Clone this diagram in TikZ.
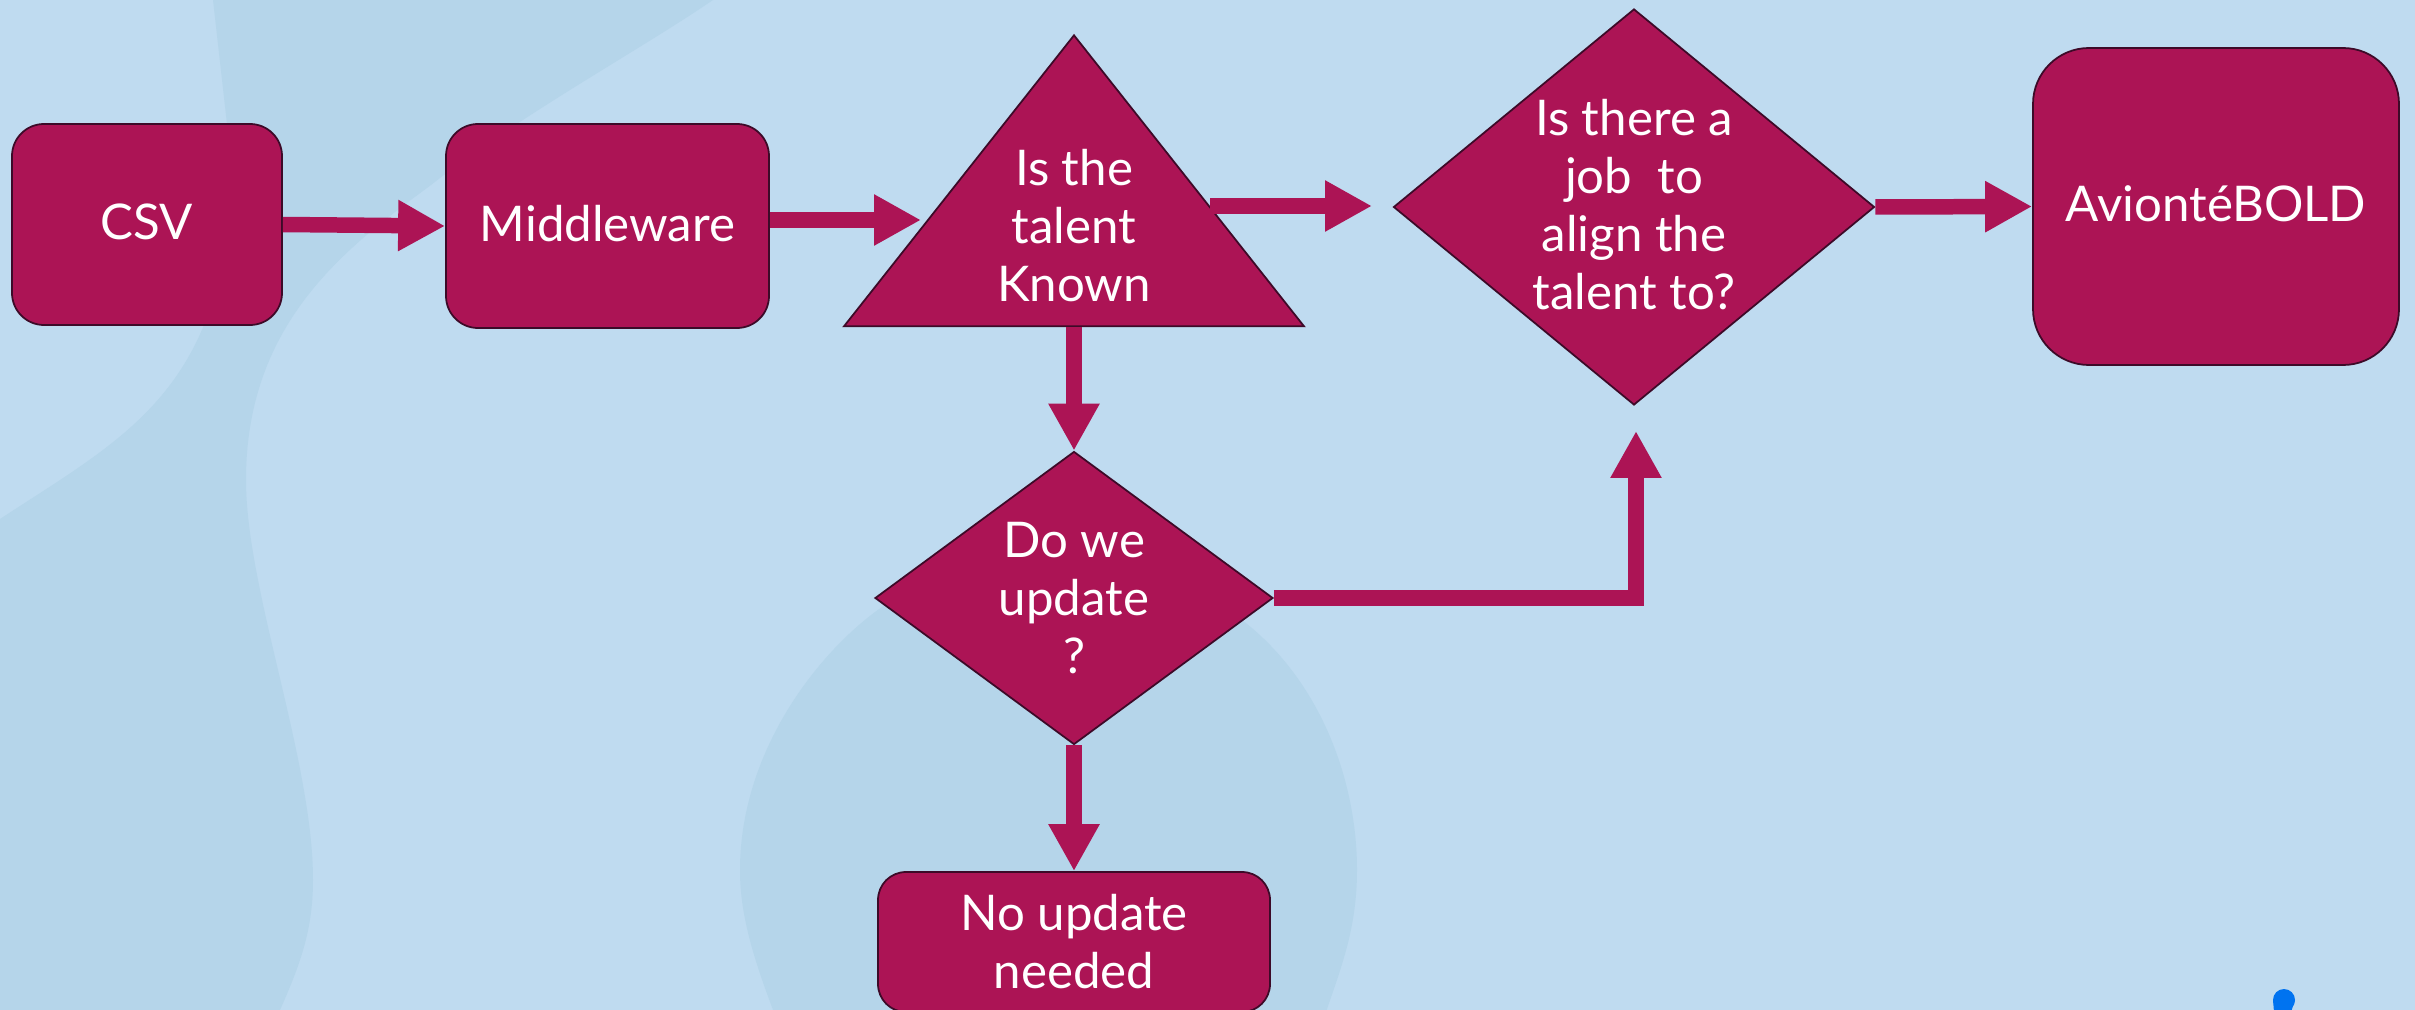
\documentclass[tikz,border=0pt]{standalone}
\usepackage{fontspec}
\setmainfont{Lato}
\usetikzlibrary{arrows.meta,shapes.geometric}
\definecolor{bgbase}{HTML}{BFDBF0}
\definecolor{bgdark}{HTML}{B5D5EA}
\definecolor{wine}{HTML}{AC1455}
\definecolor{edgewine}{HTML}{3D0A28}
\definecolor{dotblue}{HTML}{0073F0}
\newdimen\pxu \pxu=0.02cm
\tikzset{
  x=0.02cm, y=-0.02cm,
  lbl/.style={text=white, font=\fontsize{28}{33}\selectfont, align=center},
  boxnode/.style={lbl, draw=edgewine, fill=wine, line width=1pt, inner sep=0pt, rectangle},
  dianode/.style={lbl, draw=edgewine, fill=wine, line width=1pt, inner sep=-12pt, diamond},
  trinode/.style={draw=edgewine, fill=wine, line width=1pt, inner sep=0pt, isosceles triangle, isosceles triangle stretches, shape border rotate=90},
  flow/.style={draw=wine, line width=0.31cm, -{Triangle[length=0.94cm, width=0.96cm, sep=0pt]}},
}
\begin{document}
\begin{tikzpicture}
\useasboundingbox (0,0) rectangle (2415,1010);
\clip (0,0) rectangle (2415,1010);
\fill[bgbase] (0,0) rectangle (2415,1010);
% background blobs
\fill[bgdark] (213,0) -- (227,124) .. controls (240,210) and (225,275) .. (204,325)
  .. controls (165,420) and (90,460) .. (0,519)
  -- (0,1010) -- (280,1010)
  .. controls (300,965) and (313,930) .. (313,880)
  .. controls (313,760) and (246,590) .. (246,480)
  .. controls (246,320) and (350,245) .. (431,185)
  .. controls (520,115) and (640,50) .. (713,0) -- cycle;
\fill[bgdark] (775,1015) .. controls (750,950) and (740,910) .. (740,870)
  .. controls (740,750) and (820,650) .. (882,607)
  .. controls (930,560) and (1000,530) .. (1048,530)
  .. controls (1120,530) and (1190,570) .. (1242,620)
  .. controls (1320,680) and (1357,780) .. (1357,870)
  .. controls (1357,930) and (1340,970) .. (1325,1015) -- cycle;
% blue dot
\fill[dotblue] (2284,1000) circle (11);
\fill[dotblue] (2273,1000) -- (2274,1012) -- (2291,1012) -- (2295,1000) -- cycle;
% nodes
\node[boxnode, rounded corners=0.64cm, minimum width=270*\pxu, minimum height=201*\pxu, text depth=3.5pt] (csv) at (147,224.5) {CSV};
\node[boxnode, rounded corners=0.64cm, minimum width=323*\pxu, minimum height=204*\pxu, text depth=3.5pt] (mw) at (607.5,226) {Middleware};
\node[trinode, minimum width=460*\pxu, minimum height=291*\pxu, anchor=apex] (tri) at (1074,33) {};
\node[lbl] (tritext) at (1074,226) {Is the\\talent\\Known};
\node[dianode, minimum width=481*\pxu, minimum height=396*\pxu] (job) at (1634,207) {Is there a\\job\ \ to\\align the\\talent to?\rule[-3pt]{0pt}{3pt}};
\node[boxnode, rounded corners=1.12cm, minimum width=366*\pxu, minimum height=317*\pxu, text depth=3.5pt] (avi) at (2216,206.5) {AviontéBOLD};
\node[dianode, minimum width=398*\pxu, minimum height=293*\pxu] (upd) at (1074,598) {Do we\\update\\?};
\node[boxnode, rounded corners=0.56cm, minimum width=392*\pxu, minimum height=140*\pxu] (none) at (1074,942) {No update\\needed};
% free ends
\coordinate (triL) at (921,220);
\coordinate (triR) at (1210,206);
\coordinate (jobfree) at (1372,206);
\coordinate (upfree) at (1636,431);
% connectors
\draw[flow] (csv.east) -- (mw.west);
\draw[flow] (mw.east |- triL) -- (triL);
\draw[flow] (triR) -- (jobfree);
\draw[flow] (tri.south) -- (upd.north);
\draw[flow] (upd.south) -- (none.north);
\draw[flow] (upd.east) -| (upfree);
\draw[flow] (job.east) -- (avi.west);
\end{tikzpicture}
\end{document}
